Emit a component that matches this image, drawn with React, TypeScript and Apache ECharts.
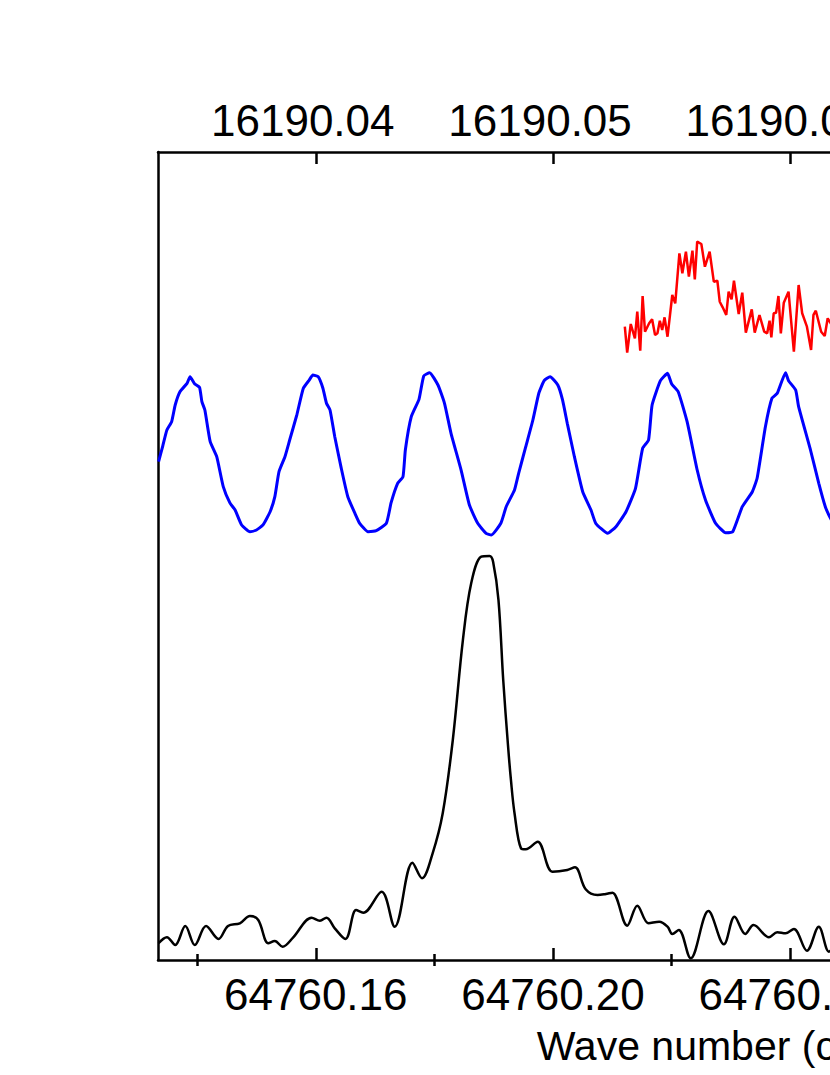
import React, { useEffect, useRef } from "react";
import * as echarts from "echarts";

// Wave number axis range (cm^-1)
const X_MIN = 64760.1334;
const X_MAX = 64760.3266;
const majorTicks = [64760.16, 64760.2, 64760.24, 64760.28, 64760.32];
const minorTicks = [64760.14, 64760.18, 64760.22, 64760.26, 64760.3];

// Black spectrum (wave number, intensity)
const blackWn = [
  64760.1335, 64760.1349, 64760.1363, 64760.138, 64760.1396, 64760.1415, 64760.1436, 64760.1452, 64760.1472, 64760.1489,
  64760.1503, 64760.152, 64760.1531, 64760.1544, 64760.1562, 64760.1593, 64760.1607, 64760.1618, 64760.1632, 64760.165,
  64760.1668, 64760.168, 64760.1711, 64760.1733, 64760.1763, 64760.1779, 64760.1797, 64760.1814, 64760.1831, 64760.1848,
  64760.1862, 64760.1879, 64760.1893, 64760.1899, 64760.1908, 64760.1916, 64760.1924, 64760.1929, 64760.1935, 64760.1946,
  64760.1954, 64760.1974, 64760.1999, 64760.2024, 64760.2037, 64760.2055, 64760.2075, 64760.2089, 64760.21, 64760.2125,
  64760.2142, 64760.2161, 64760.2179, 64760.2193, 64760.2201, 64760.2212, 64760.2232, 64760.2262, 64760.2288, 64760.2306,
  64760.2324, 64760.2338, 64760.2364, 64760.2378, 64760.2392, 64760.2406, 64760.2428, 64760.2448, 64760.2465, 64760.2481,
];
const blackI = [
  2.07, 2.81, 1.86, 4.21, 1.86, 4.21, 2.6, 4.21, 4.54, 5.45,
  4.95, 2.07, 2.35, 1.65, 2.81, 5.24, 4.86, 5.24, 3.92, 2.6,
  6.19, 5.85, 8.45, 4.12, 12.04, 10.11, 13.21, 18.16, 27.23, 39.6,
  46.62, 49.91, 50.0, 49.26, 44.55, 34.65, 26.61, 22.28, 18.19, 13.82,
  13.7, 14.64, 10.93, 11.14, 11.47, 8.75, 8.04, 8.17, 8.33, 4.25,
  6.72, 4.54, 4.74, 4.12, 3.22, 3.71, 0.21, 6.06, 1.94, 5.36,
  3.22, 4.33, 2.81, 3.43, 3.3, 3.84, 1.15, 4.12, 1.03, 3.09,
];

// Blue etalon fringes
const blueWn = [
  64760.1335, 64760.1342, 64760.1349, 64760.1357, 64760.1363, 64760.1371, 64760.1383, 64760.1388, 64760.1396, 64760.1404,
  64760.1408, 64760.1413, 64760.1422, 64760.1433, 64760.1444, 64760.1455, 64760.1464, 64760.1475, 64760.1489, 64760.15,
  64760.1511, 64760.1523, 64760.1531, 64760.1538, 64760.1548, 64760.1556, 64760.1568, 64760.1579, 64760.1589, 64760.1595,
  64760.1604, 64760.1612, 64760.1618, 64760.1624, 64760.1632, 64760.1643, 64760.1654, 64760.1666, 64760.1674, 64760.1688,
  64760.1702, 64760.1719, 64760.1727, 64760.1738, 64760.1747, 64760.1751, 64760.1761, 64760.1774, 64760.1782, 64760.1792,
  64760.1806, 64760.1817, 64760.1828, 64760.1845, 64760.1859, 64760.1873, 64760.1887, 64760.1896, 64760.1912, 64760.1921,
  64760.1935, 64760.1942, 64760.1954, 64760.1966, 64760.1976, 64760.1985, 64760.1995, 64760.2008, 64760.2016, 64760.2024,
  64760.2036, 64760.205, 64760.2064, 64760.2072, 64760.2092, 64760.2106, 64760.2123, 64760.2139, 64760.2151, 64760.2161,
  64760.2167, 64760.2181, 64760.2193, 64760.22, 64760.2211, 64760.2226, 64760.2243, 64760.2257, 64760.2274, 64760.2291,
  64760.2303, 64760.2319, 64760.2336, 64760.2344, 64760.2358, 64760.2369, 64760.2378, 64760.2392, 64760.2397, 64760.2409,
  64760.2414, 64760.2434, 64760.2448, 64760.2459, 64760.2465, 64760.2478,
];
const blueI = [
  61.67, 63.61, 65.59, 66.62, 68.69, 70.33, 71.37, 72.19, 71.29, 70.88,
  69.1, 68.07, 64.15, 62.29, 58.58, 56.6, 55.69, 53.84, 53.01, 53.22,
  53.84, 55.48, 57.34, 60.43, 62.29, 64.36, 67.45, 70.76, 71.78, 72.4,
  72.19, 70.76, 68.9, 68.07, 64.76, 60.85, 57.34, 55.28, 54.05, 53.01,
  53.13, 54.05, 56.6, 59.0, 59.81, 63.12, 67.24, 69.39, 72.28, 72.69,
  71.16, 68.9, 65.19, 60.64, 56.31, 54.05, 52.81, 52.6, 54.05, 56.1,
  58.17, 60.23, 63.53, 66.83, 70.14, 71.7, 72.19, 71.16, 69.31, 66.42,
  62.29, 57.96, 55.69, 54.05, 52.81, 53.63, 55.48, 58.38, 63.33, 64.36,
  68.69, 71.7, 72.61, 71.29, 70.33, 66.62, 60.64, 56.93, 54.05, 52.88,
  53.01, 56.1, 57.96, 59.62, 66.0, 69.52, 70.14, 72.69, 71.7, 70.54,
  68.48, 63.12, 59.0, 56.1, 55.07, 53.22,
];

// Red noisy spectrum
const redWn = [
  64760.2121, 64760.2125, 64760.2131, 64760.2138, 64760.2142, 64760.2147, 64760.2151, 64760.2155, 64760.2162, 64760.2167,
  64760.2172, 64760.2176, 64760.218, 64760.2184, 64760.2188, 64760.2193, 64760.2201, 64760.2206, 64760.2213, 64760.2218,
  64760.2224, 64760.2229, 64760.2235, 64760.2239, 64760.2243, 64760.225, 64760.2256, 64760.2264, 64760.2271, 64760.2277,
  64760.2281, 64760.2286, 64760.2292, 64760.2296, 64760.2301, 64760.2305, 64760.2313, 64760.2319, 64760.2325, 64760.2335,
  64760.234, 64760.2348, 64760.2356, 64760.2361, 64760.2365, 64760.2368, 64760.2372, 64760.2376, 64760.238, 64760.2384,
  64760.2389, 64760.2397, 64760.2406, 64760.2414, 64760.242, 64760.2428, 64760.2435, 64760.2439, 64760.2443, 64760.2452,
  64760.2458, 64760.2463, 64760.247,
];
const redI = [
  78.38, 75.16, 78.71, 76.94, 80.24, 75.41, 82.18, 77.76, 78.8, 79.29,
  77.35, 77.56, 79.12, 77.97, 79.54, 77.14, 82.3, 81.27, 87.46, 84.99,
  87.66, 84.57, 87.79, 84.24, 88.9, 88.61, 85.8, 87.66, 83.95, 84.07,
  81.47, 80.78, 79.83, 82.71, 81.77, 84.07, 79.95, 82.59, 77.64, 80.53,
  77.64, 79.83, 77.76, 77.56, 79.12, 77.07, 80.04, 80.11, 82.18, 77.56,
  81.35, 82.71, 75.28, 83.54, 80.04, 78.38, 75.5, 79.83, 80.36, 77.76,
  77.23, 79.42, 78.59,
];

const FONT = "Liberation Sans";
const BLACK = "#000000";

const pairs = (xs: number[], ys: number[]) => xs.map((x, i) => [x, ys[i]]);

function buildOption(): any {
  const baseX = {
    type: "value",
    min: X_MIN,
    max: X_MAX,
    splitLine: { show: false },
    axisPointer: { show: false },
  };
  return {
    animation: false,
    backgroundColor: "#ffffff",
    grid: {
      left: 158,
      top: 152,
      right: 96,
      bottom: 115,
      containLabel: false,
      outerBoundsMode: "none",
    },
    xAxis: [
      {
        ...baseX,
        position: "bottom",
        axisLine: { show: true, onZero: false, lineStyle: { color: BLACK, width: 2.5 } },
        axisTick: {
          show: true,
          inside: true,
          length: 12,
          customValues: majorTicks,
          lineStyle: { color: BLACK, width: 2.5 },
        },
        axisLabel: {
          show: true,
          customValues: majorTicks,
          formatter: (v: number) => v.toFixed(2),
          fontSize: 44,
          fontFamily: FONT,
          color: BLACK,
          margin: 12,
        },
        name: "{a|Wave number (cm}{s|−1}{a|)}",
        nameLocation: "middle",
        nameGap: 64,
        nameMoveOverlap: false,
        nameTextStyle: {
          padding: [0, 12, 0, 0],
          rich: {
            a: { fontSize: 41, fontFamily: FONT, color: BLACK, lineHeight: 44 },
            s: { fontSize: 26, fontFamily: FONT, color: BLACK, lineHeight: 44, verticalAlign: "top" },
          },
        },
      },
      {
        ...baseX,
        position: "bottom",
        axisLine: { show: false },
        axisTick: {
          show: true,
          inside: true,
          length: 6,
          customValues: minorTicks,
          lineStyle: { color: BLACK, width: 2.5 },
        },
        axisLabel: { show: false },
      },
      {
        ...baseX,
        position: "top",
        axisLine: { show: true, onZero: false, lineStyle: { color: BLACK, width: 2.5 } },
        axisTick: {
          show: true,
          inside: true,
          length: 12,
          customValues: majorTicks,
          lineStyle: { color: BLACK, width: 2.5 },
        },
        axisLabel: {
          show: true,
          customValues: majorTicks,
          formatter: (v: number) => (v / 4).toFixed(2),
          fontSize: 44,
          fontFamily: FONT,
          color: BLACK,
          margin: 10,
          padding: [0, 26, 0, 0],
        },
      },
      {
        ...baseX,
        position: "top",
        axisLine: { show: false },
        axisTick: {
          show: true,
          inside: true,
          length: 6,
          customValues: minorTicks,
          lineStyle: { color: BLACK, width: 2.5 },
        },
        axisLabel: { show: false },
      },
    ],
    yAxis: [
      {
        type: "value",
        position: "left",
        min: 0,
        max: 100,
        axisLine: { show: true, onZero: false, lineStyle: { color: BLACK, width: 2.5 } },
        axisTick: { show: false },
        axisLabel: { show: false },
        splitLine: { show: false },
      },
      {
        type: "value",
        position: "right",
        min: 0,
        max: 100,
        axisLine: { show: true, onZero: false, lineStyle: { color: BLACK, width: 2.5 } },
        axisTick: { show: false },
        axisLabel: { show: false },
        splitLine: { show: false },
      },
    ],
    series: [
      {
        name: "signal",
        type: "line",
        xAxisIndex: 0,
        yAxisIndex: 0,
        data: pairs(blackWn, blackI),
        showSymbol: false,
        symbol: "none",
        smooth: 0.35,
        lineStyle: { color: BLACK, width: 2.5 },
        emphasis: { disabled: true },
      },
      {
        name: "etalon",
        type: "line",
        xAxisIndex: 0,
        yAxisIndex: 0,
        data: pairs(blueWn, blueI),
        showSymbol: false,
        symbol: "none",
        smooth: 0.15,
        lineStyle: { color: "#0000ff", width: 3 },
        emphasis: { disabled: true },
      },
      {
        name: "reference",
        type: "line",
        xAxisIndex: 0,
        yAxisIndex: 0,
        data: pairs(redWn, redI),
        showSymbol: false,
        symbol: "none",
        smooth: false,
        lineStyle: { color: "#ff0000", width: 2.5 },
        emphasis: { disabled: true },
      },
    ],
  };
}

export default function App() {
  const ref = useRef<HTMLDivElement>(null);
  useEffect(() => {
    if (!ref.current) return;
    const chart = echarts.init(ref.current, null, { renderer: "svg" });
    chart.setOption(buildOption());
    return () => chart.dispose();
  }, []);
  return (
    <div
      style={{
        position: "fixed",
        left: 0,
        top: 0,
        width: 830,
        height: 1075,
        overflow: "hidden",
        background: "#ffffff",
      }}
    >
      <div ref={ref} style={{ width: 1400, height: 1075 }} />
    </div>
  );
}
